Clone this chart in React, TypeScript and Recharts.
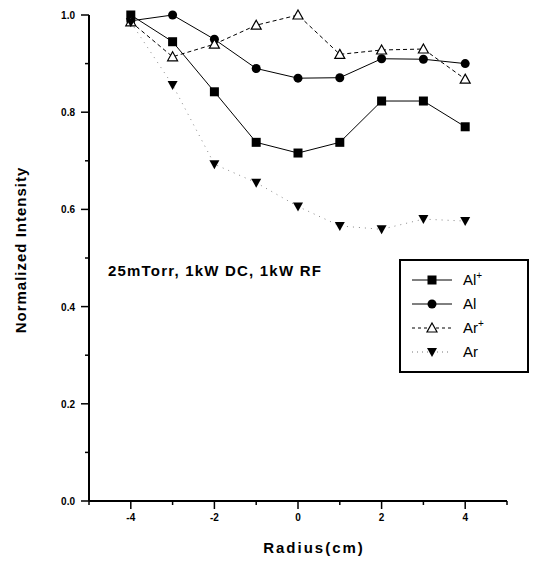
import React from "react";
import { LineChart, Line, XAxis, YAxis } from "recharts";

const radius = [-4, -3, -2, -1, 0, 1, 2, 3, 4];
const alIon = [1.0, 0.945, 0.842, 0.738, 0.716, 0.738, 0.823, 0.823, 0.77];
const alNeutral = [0.988, 1.0, 0.95, 0.89, 0.87, 0.871, 0.91, 0.909, 0.9];
const arIon = [0.986, 0.914, 0.94, 0.979, 1.0, 0.919, 0.928, 0.93, 0.868];
const arNeutral = [0.985, 0.856, 0.693, 0.655, 0.606, 0.566, 0.559, 0.58, 0.576];

const xTicks = [-5, -4, -3, -2, -1, 0, 1, 2, 3, 4, 5];
const xLabels = [-4, -2, 0, 2, 4];
const yTicks = [0, 0.1, 0.2, 0.3, 0.4, 0.5, 0.6, 0.7, 0.8, 0.9, 1.0];

const data = radius.map((r, i) => ({
  r,
  alIon: alIon[i],
  al: alNeutral[i],
  arIon: arIon[i],
  ar: arNeutral[i],
}));

const FONT = "'Liberation Sans', Arial, sans-serif";

const Square = (p: any) => (
  <rect key={p.key ?? `sq-${p.index}`} x={p.cx - 4.5} y={p.cy - 4.5} width={9} height={9} fill="#000" />
);
const Circle = (p: any) => (
  <circle key={p.key ?? `ci-${p.index}`} cx={p.cx} cy={p.cy} r={4.5} fill="#000" />
);
const TriUp = (p: any) => (
  <path
    key={p.key ?? `tu-${p.index}`}
    d={`M${p.cx},${p.cy - 5} L${p.cx + 5},${p.cy + 4} L${p.cx - 5},${p.cy + 4} Z`}
    fill="#fff"
    stroke="#000"
    strokeWidth={1.2}
  />
);
const TriDown = (p: any) => (
  <path
    key={p.key ?? `td-${p.index}`}
    d={`M${p.cx - 5},${p.cy - 4} L${p.cx + 5},${p.cy - 4} L${p.cx},${p.cy + 5} Z`}
    fill="#000"
  />
);

const XTick = (p: any) => {
  const v = p.payload.value;
  const major = v % 2 === 0;
  return (
    <g>
      <line x1={p.x} x2={p.x} y1={p.y} y2={p.y + (major ? 8 : 4)} stroke="#000" strokeWidth={1.5} />
      {xLabels.includes(v) && (
        <text x={p.x} y={p.y + 20} textAnchor="middle" fontSize={10} fontWeight="bold" fontFamily={FONT} fill="#000">
          {v}
        </text>
      )}
    </g>
  );
};

const YTick = (p: any) => {
  const v = Math.round(p.payload.value * 10);
  const major = v % 2 === 0;
  return (
    <g>
      <line x1={p.x - (major ? 8 : 4)} x2={p.x} y1={p.y} y2={p.y} stroke="#000" strokeWidth={1.5} />
      {major && (
        <text x={p.x - 14} y={p.y + 4} textAnchor="end" fontSize={10} fontWeight="bold" fontFamily={FONT} fill="#000">
          {(v / 10).toFixed(1)}
        </text>
      )}
    </g>
  );
};

const legendRows = [
  { label: "Al", sup: "+", dash: undefined, color: "#000", mark: "sq" },
  { label: "Al", sup: "", dash: undefined, color: "#000", mark: "ci" },
  { label: "Ar", sup: "+", dash: "3 3", color: "#000", mark: "tu" },
  { label: "Ar", sup: "", dash: "1 4", color: "#777", mark: "td" },
];

const LegendBox = () => (
  <g transform="translate(399,259)">
    <rect x={1} y={1} width={128} height={112} fill="#fff" stroke="#000" strokeWidth={2} />
    {legendRows.map((row, i) => {
      const cy = 21 + i * 24;
      const cx = 33;
      return (
        <g key={i}>
          <line x1={13} x2={53} y1={cy} y2={cy} stroke={row.color} strokeWidth={1} strokeDasharray={row.dash} />
          {row.mark === "sq" && <Square cx={cx} cy={cy} index={i} />}
          {row.mark === "ci" && <Circle cx={cx} cy={cy} index={i} />}
          {row.mark === "tu" && <TriUp cx={cx} cy={cy} index={i} />}
          {row.mark === "td" && <TriDown cx={cx} cy={cy} index={i} />}
          <text x={64} y={cy + 5} fontSize={15} fontFamily={FONT} fill="#000">
            {row.label}
            {row.sup && (
              <tspan dy={-6} fontSize={10}>
                {row.sup}
              </tspan>
            )}
          </text>
        </g>
      );
    })}
  </g>
);

export default function App() {
  return (
    <div style={{ position: "absolute", left: 0, top: 0, width: 546, height: 561, background: "#fff" }}>
      <LineChart width={546} height={561} data={data} margin={{ top: 15, right: 39, bottom: 30, left: 29 }}>
        <XAxis
          dataKey="r"
          type="number"
          domain={[-5, 5]}
          ticks={xTicks}
          interval={0}
          tick={<XTick />}
          tickSize={0}
          tickMargin={0}
          height={30}
          axisLine={{ stroke: "#000", strokeWidth: 2 }}
          tickLine={false}
        />
        <YAxis
          type="number"
          domain={[0, 1]}
          ticks={yTicks}
          interval={0}
          tick={<YTick />}
          tickSize={0}
          tickMargin={0}
          width={60}
          axisLine={{ stroke: "#000", strokeWidth: 2 }}
          tickLine={false}
        />
        <Line dataKey="alIon" stroke="#000" strokeWidth={1} dot={Square} isAnimationActive={false} />
        <Line dataKey="al" stroke="#000" strokeWidth={1} dot={Circle} isAnimationActive={false} />
        <Line dataKey="arIon" stroke="#000" strokeWidth={1} strokeDasharray="4 3" dot={TriUp} isAnimationActive={false} />
        <Line dataKey="ar" stroke="#888" strokeWidth={1} strokeDasharray="1 5" dot={TriDown} isAnimationActive={false} />
      </LineChart>
      <svg width={546} height={561} style={{ position: "absolute", left: 0, top: 0, pointerEvents: "none" }}>
        <LegendBox />
        <text x={108} y={276} fontSize={15} fontWeight="bold" fontFamily={FONT} fill="#000" letterSpacing={1.2}>
          25mTorr, 1kW DC, 1kW RF
        </text>
        <text x={314} y={553} textAnchor="middle" fontSize={15} fontWeight="bold" fontFamily={FONT} fill="#000" letterSpacing={2}>
          Radius(cm)
        </text>
        <text
          transform="translate(26,250) rotate(-90)"
          textAnchor="middle"
          fontSize={15}
          fontWeight="bold"
          fontFamily={FONT}
          fill="#000"
          letterSpacing={1}
        >
          Normalized Intensity
        </text>
      </svg>
    </div>
  );
}
